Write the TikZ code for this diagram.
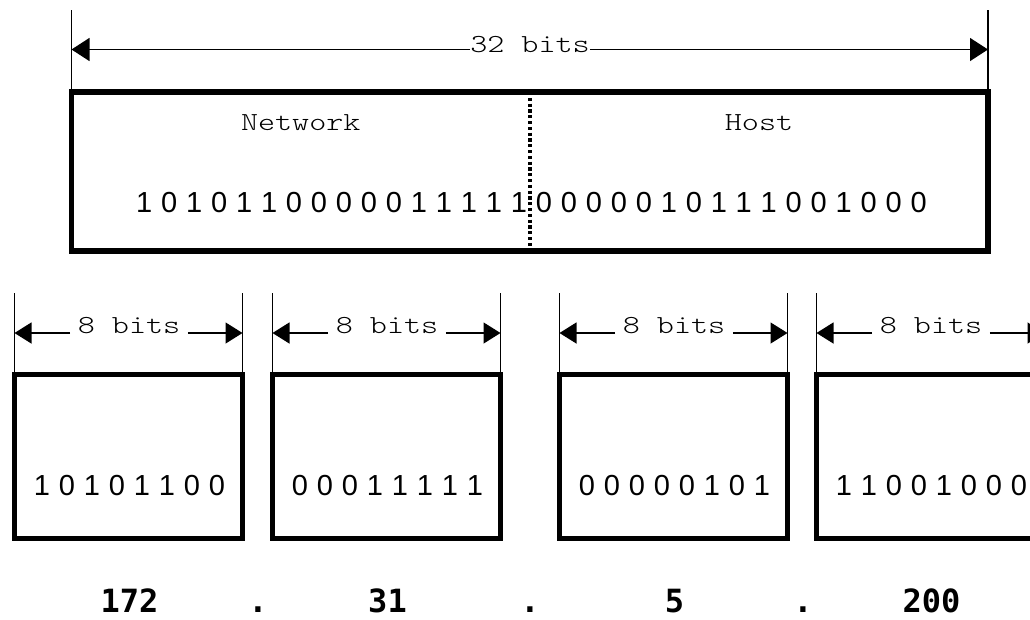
\documentclass[tikz,border=0pt]{standalone}
\usepackage{fontspec}
\usetikzlibrary{arrows.meta}
\newfontfamily\courfont{lmmonolt10-regular.otf}[FakeStretch=1.25]
\newfontfamily\digfont[WordSpace=1.1]{Liberation Sans}
\newfontfamily\numfont{DejaVu Sans Mono Bold}
\begin{document}
\begin{tikzpicture}[x=1pt,y=-1pt,
  extline/.style={line width=1.3pt},
  bigarrow/.style={line width=1.3pt,-{Triangle[length=18pt,width=23pt]}},
  smallarrow/.style={line width=1.3pt,-{Triangle[length=17pt,width=21pt]}},
  bigbox/.style={draw,line width=5.5pt,rectangle,inner sep=0pt,outer sep=0pt,minimum width=916.5pt,minimum height=159pt},
  bytebox/.style={draw,line width=5pt,rectangle,inner sep=0pt,outer sep=0pt,minimum width=228pt,minimum height=164pt},
  divider/.style={line width=4pt,dash pattern=on 3.2pt off 2.6pt},
  courlabel/.style={font=\courfont\fontsize{26}{28}\selectfont,inner sep=0pt,anchor=base},
  bitlabel/.style={font=\courfont\fontsize{26}{28}\selectfont,inner ysep=0pt,inner xsep=7.5pt,anchor=base},
  digits/.style={font=\digfont\fontsize{29}{31}\selectfont,inner sep=0pt,anchor=base},
  decimal/.style={font=\numfont\fontsize{32}{34}\selectfont,inner sep=0pt,anchor=base}
]
\useasboundingbox (0,0) rectangle (1030,619);
\clip (0,0) rectangle (1030,619);

% main 32-bit box
\node[bigbox] (main) at (529.75,171.5) {};
\coordinate (divtop) at (530,92);
\coordinate (divbot) at (530,251);
\draw[divider] (divtop) -- (divbot);
\node[courlabel] (net) at (300.75,130) {Network};
\node[courlabel] (host) at (759,130) {Host};
\node[digits] (allbits) at (531.5,212.5) {1 0 1 0 1 1 0 0 0 0 0 1 1 1 1 1 0 0 0 0 0 1 0 1 1 1 0 0 1 0 0 0};

% 32 bits dimension
\coordinate (ml) at (71.5,10);
\coordinate (mr) at (988,10);
\draw[extline] (ml) -- (main.north west);
\draw[extline] (mr) -- (main.north east);
\node[courlabel] (t32) at (530,52) {32 bits};
\coordinate (a32l) at (71.5,49.5);
\coordinate (a32r) at (988,49.5);
\draw[bigarrow] (t32.west |- a32l) -- (a32l);
\draw[bigarrow] (t32.east |- a32r) -- (a32r);

% byte boxes
\foreach \i/\x/\bits/\dec in {1/128.5/{1 0 1 0 1 1 0 0}/172,
                              2/386.5/{0 0 0 1 1 1 1 1}/31,
                              3/673.5/{0 0 0 0 0 1 0 1}/5,
                              4/930.5/{1 1 0 0 1 0 0 0}/200}{
  \node[bytebox] (b\i) at (\x,456.5) {};
  \node[digits] (d\i) at (\x+1,495) {\bits};
  \node[decimal] (n\i) at (\x+1,612) {\dec};
  \coordinate (el\i) at ([yshift=81.5pt]b\i.north west);
  \coordinate (er\i) at ([yshift=81.5pt]b\i.north east);
  \draw[extline] (el\i) -- (b\i.north west);
  \draw[extline] (er\i) -- (b\i.north east);
  \node[bitlabel] (t\i) at (\x+0.5,333) {8 bits};
  \coordinate (al\i) at ([yshift=41.5pt]b\i.north west);
  \coordinate (ar\i) at ([yshift=41.5pt]b\i.north east);
  \draw[smallarrow] (t\i.west |- al\i) -- (al\i);
  \draw[smallarrow] (t\i.east |- ar\i) -- (ar\i);
}

% dots between decimal numbers
\node[decimal] (dot1) at (258,612) {.};
\node[decimal] (dot2) at (530,612) {.};
\node[decimal] (dot3) at (803,612) {.};
\end{tikzpicture}
\end{document}
